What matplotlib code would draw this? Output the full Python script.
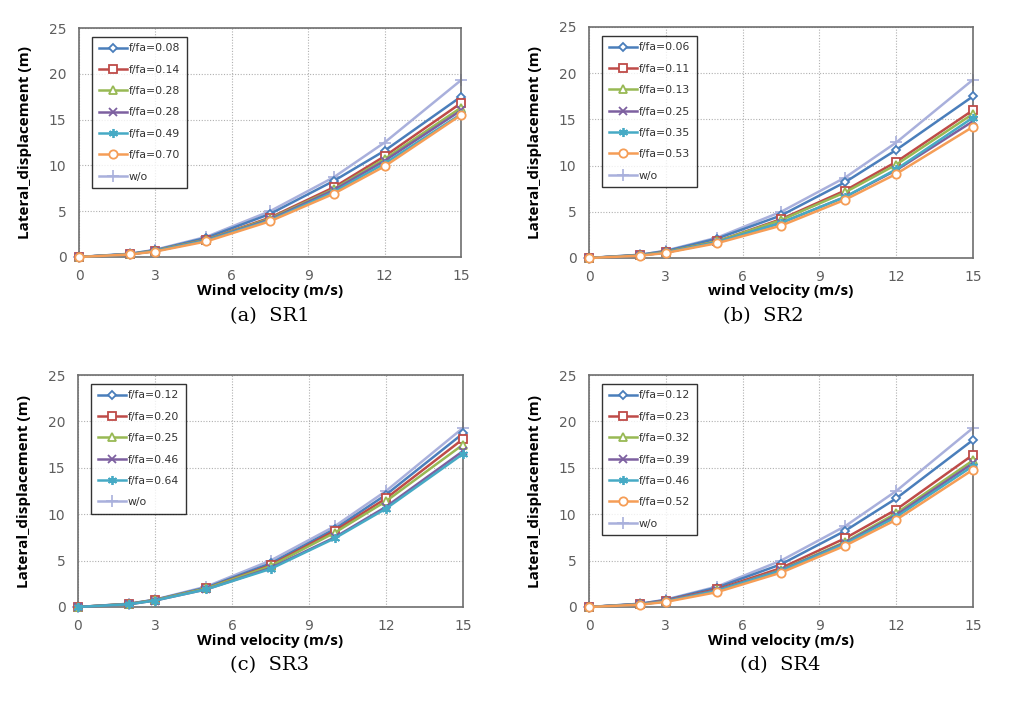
import matplotlib
matplotlib.use("Agg")
import matplotlib.pyplot as plt

# wind velocity (m/s), shared by all panels
velocity = [0, 2, 3, 5, 7.5, 10, 12, 15]

# displacement without damper (same in every panel)
wo = [0, 0.35, 0.8, 2.2, 5.0, 8.7, 12.5, 19.3]

# SR1
sr1_labels = ["f/fa=0.08", "f/fa=0.14", "f/fa=0.28", "f/fa=0.28", "f/fa=0.49", "f/fa=0.70"]
sr1_values = [
    [0, 0.35, 0.75, 2.1, 4.7, 8.3, 11.6, 17.5],
    [0, 0.30, 0.70, 1.9, 4.3, 7.6, 11.0, 16.8],
    [0, 0.30, 0.70, 1.9, 4.2, 7.4, 10.7, 16.3],
    [0, 0.30, 0.65, 1.85, 4.1, 7.3, 10.5, 16.0],
    [0, 0.30, 0.65, 1.8, 4.0, 7.1, 10.2, 15.6],
    [0, 0.28, 0.60, 1.7, 3.9, 6.9, 9.9, 15.5],
]

# SR2
sr2_labels = ["f/fa=0.06", "f/fa=0.11", "f/fa=0.13", "f/fa=0.25", "f/fa=0.35", "f/fa=0.53"]
sr2_values = [
    [0, 0.35, 0.75, 2.1, 4.6, 8.2, 11.7, 17.5],
    [0, 0.30, 0.65, 1.8, 4.2, 7.3, 10.4, 16.0],
    [0, 0.30, 0.65, 1.8, 4.1, 7.1, 10.1, 15.6],
    [0, 0.28, 0.60, 1.7, 3.8, 6.6, 9.5, 14.8],
    [0, 0.28, 0.60, 1.7, 3.8, 6.6, 9.6, 15.2],
    [0, 0.25, 0.55, 1.6, 3.5, 6.3, 9.1, 14.2],
]

# SR3
sr3_labels = ["f/fa=0.12", "f/fa=0.20", "f/fa=0.25", "f/fa=0.46", "f/fa=0.64"]
sr3_values = [
    [0, 0.35, 0.78, 2.1, 4.7, 8.4, 12.1, 18.7],
    [0, 0.33, 0.75, 2.0, 4.5, 8.2, 11.7, 18.1],
    [0, 0.33, 0.75, 2.0, 4.4, 8.0, 11.4, 17.5],
    [0, 0.30, 0.70, 1.9, 4.2, 7.5, 10.8, 16.8],
    [0, 0.30, 0.70, 1.9, 4.1, 7.4, 10.6, 16.5],
]

# SR4
sr4_labels = ["f/fa=0.12", "f/fa=0.23", "f/fa=0.32", "f/fa=0.39", "f/fa=0.46", "f/fa=0.52"]
sr4_values = [
    [0, 0.35, 0.75, 2.1, 4.6, 8.2, 11.7, 18.0],
    [0, 0.30, 0.70, 1.9, 4.2, 7.4, 10.5, 16.4],
    [0, 0.30, 0.65, 1.8, 4.0, 7.0, 10.1, 15.8],
    [0, 0.30, 0.65, 1.8, 3.95, 6.9, 9.9, 15.5],
    [0, 0.28, 0.60, 1.75, 3.9, 6.8, 9.7, 15.2],
    [0, 0.25, 0.55, 1.6, 3.7, 6.6, 9.4, 14.8],
]

panels = [
    ("(a)  SR1", "Wind velocity (m/s)", sr1_labels, sr1_values),
    ("(b)  SR2", "wind Velocity (m/s)", sr2_labels, sr2_values),
    ("(c)  SR3", "Wind velocity (m/s)", sr3_labels, sr3_values),
    ("(d)  SR4", "Wind velocity (m/s)", sr4_labels, sr4_values),
]

# Excel-2007 style series colours and markers (colour, marker, size, filled?)
styles = [
    ("#4A7EBB", "D", 4.5, False),
    ("#BE4B48", "s", 5.5, False),
    ("#98B954", "^", 5.5, False),
    ("#7D60A0", "x", 5.5, True),
    ("#46AAC5", (6, 2, 0), 6.5, True),
    ("#F59D56", "o", 6, False),
]
wo_color = "#A9B0DC"

# axes rectangles in pixels (left, top, right, bottom) and caption positions
boxes = [
    (79, 28, 461, 257),
    (589, 27, 973, 258),
    (78, 375, 463, 607),
    (589, 375, 973, 607),
]
captions = [(270, 316), (763, 316), (270, 665), (780, 665)]

W, H = 1014, 715
fig = plt.figure(figsize=(W / 100, H / 100), dpi=100)

for (cap, xlab, labels, values), (l, t, r, b), (cx, cy) in zip(panels, boxes, captions):
    ax = fig.add_axes([l / W, 1 - b / H, (r - l) / W, (b - t) / H])
    for i, (lab, vals) in enumerate(zip(labels, values)):
        color, marker, ms, filled = styles[i]
        ax.plot(velocity, vals, color=color, marker=marker, markersize=ms,
                markerfacecolor=color if filled else "white",
                markeredgecolor=color, markeredgewidth=1.3, linewidth=1.8,
                label=lab, clip_on=False, zorder=3)
    ax.plot(velocity, wo, color=wo_color, marker="+", markersize=8,
            markeredgewidth=1.2, linewidth=1.8, label="w/o", clip_on=False, zorder=2)

    ax.set_xlim(0, 15)
    ax.set_ylim(0, 25)
    ax.set_xticks(range(0, 16, 3))
    ax.set_yticks(range(0, 26, 5))
    ax.grid(True, color="#B0B0B0", linestyle=(0, (1, 1.5)), linewidth=0.8)
    ax.set_axisbelow(True)
    for sp in ax.spines.values():
        sp.set_color("#6E6E6E")
        sp.set_linewidth(1.2)
    ax.tick_params(length=0, labelsize=10, colors="#5E5E5E", pad=9)

    ax.set_xlabel(xlab, fontsize=11, fontweight="bold", family="Open Sans", labelpad=0)
    ax.set_ylabel("Lateral_displacement (m)", fontsize=11, fontweight="bold",
                  family="Open Sans", labelpad=12)

    leg = ax.legend(loc="upper left", fontsize=7.8, frameon=True, fancybox=False,
                    edgecolor="black", handlelength=2.6, labelspacing=1.05,
                    borderpad=0.6, handletextpad=0.2, bbox_to_anchor=(0.02, 0.985))
    leg.get_frame().set_linewidth(1.0)
    for txt in leg.get_texts():
        txt.set_color("#333333")

    fig.text(cx / W, 1 - cy / H, cap, ha="center", va="center",
             fontsize=14, family="DejaVu Serif")

fig.savefig("out.png", dpi=100, facecolor="white")
